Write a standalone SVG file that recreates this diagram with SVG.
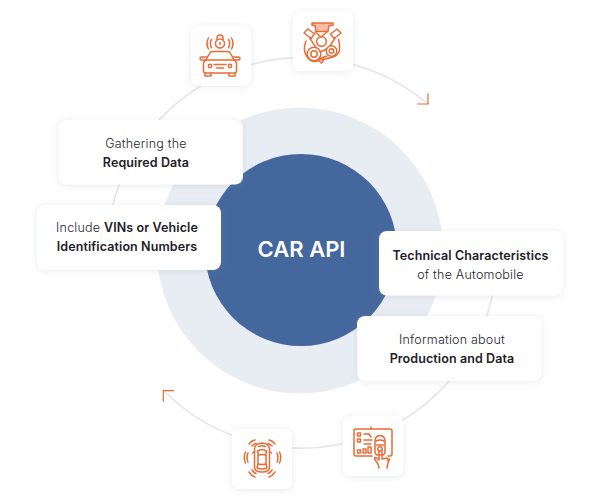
<svg xmlns="http://www.w3.org/2000/svg" width="600" height="500" viewBox="0 0 600 500">
<defs>
<filter id="sh" x="-20%" y="-20%" width="140%" height="150%"><feDropShadow dx="0" dy="1" stdDeviation="3.5" flood-color="#8a94a6" flood-opacity="0.2"/></filter>
</defs>
<style>
.card{fill:#fff;filter:url(#sh)}
.arc{fill:none;stroke:#e4e5e7;stroke-width:1.6}
.arrow{fill:none;stroke:#ea6a33;stroke-width:1.2}
.ic{fill:none;stroke:#e96b35;stroke-width:1.5;stroke-linecap:round;stroke-linejoin:round}
.t{font-family:Inter,"Liberation Sans",sans-serif;font-size:12.5px;font-weight:300;fill:#23262c;text-anchor:middle;letter-spacing:.22px}
.b{font-weight:600;fill:#1d2026;letter-spacing:.1px}
</style>
<rect width="600" height="500" fill="#fff"/>
<g id="hub">
<circle cx="300" cy="250.500" r="143" fill="#e8ecf3"/>
<circle cx="301" cy="250" r="96" fill="#44679d"/>
<text x="301.500" y="257" font-family="Inter,'Liberation Sans',sans-serif" font-size="22" font-weight="600" fill="#fff" text-anchor="middle">CAR API</text>
</g>
<g id="connectors">
<path class="arc" d="M110.600 215A195 195 0 0 1 428 104"/>
<path class="arc" d="M496.200 270A195 195 0 0 1 163.800 390.700"/>
<path class="arrow" d="M417.300 104H428V93.300"/>
<path class="arrow" d="M174 390.700H163.300V401.700"/>
</g>
<g id="node-gathering">
<rect class="card" x="58.500" y="120" width="184.500" height="64.500" rx="8"/>
<text class="t" x="146" y="148">Gathering the</text>
<text class="t b" x="146" y="167">Required Data</text>
</g>
<g id="node-vin">
<rect class="card" x="37" y="205" width="184" height="65" rx="8"/>
<text class="t" x="127" y="232">Include <tspan class="b">VINs or Vehicle</tspan></text>
<text class="t b" x="127" y="251">Identification Numbers</text>
</g>
<g id="node-technical">
<rect class="card" x="379" y="231" width="184" height="64.500" rx="8"/>
<text class="t b" x="470.500" y="260">Technical Characteristics</text>
<text class="t" x="470.500" y="279">of the Automobile</text>
</g>
<g id="node-production">
<rect class="card" x="357" y="316" width="184.500" height="65" rx="8"/>
<text class="t" x="452" y="344">Information about</text>
<text class="t b" x="452" y="363">Production and Data</text>
</g>
<g id="node-car">
<rect class="card" x="191" y="26" width="60" height="60" rx="7"/>
<g class="ic">
<circle cx="220" cy="43.500" r="4.500"/><path d="M217 40v-2a3 3 0 0 1 6 0v2"/><path d="M220 42.500v2"/>
<path d="M211.500 39.500q-2.500 4 0 8M208.500 38q-3 5.500 0 11M228.500 39.500q2.500 4 0 8M231.500 38q3 5.500 0 11"/>
<path d="M206 60l3.500-6.500q1-2 3-2h15q2 0 3 2l3.500 6.500"/>
<path d="M206 60h28q2 1 2.500 3v8q0 2-2 2h-29q-2 0-2-2v-8q.5-2 2.500-3z"/>
<path d="M206 60h-4.500q-1.500 0-1.500-1.500 0-1.500 1.500-1.500h5.500M234 60h4.500q1.500 0 1.500-1.500 0-1.500-1.500-1.500h-5.500"/>
<path d="M205 73v3h6v-3M229 73v3h6v-3"/>
<circle cx="210" cy="66" r="1.700"/><circle cx="230" cy="66" r="1.700"/>
<path d="M214 64.500h12M216.500 68h7"/>
</g>
</g>
<g id="node-engine">
<rect class="card" x="293" y="11" width="60" height="60" rx="7"/>
<g class="ic">
<path d="M312 23h21v2.500h-4l-1 6h-12l-1-6h-3z" fill="#f6bda6"/>
<path d="M304 33l4-4 6.500 5-3.500 4.500zM341 33l-4-4-6.500 5 3.500 4.500z"/>
<path d="M309.700 38l6.300 9.700M335 38l-5 8M315 32l6 5 6-5"/>
<circle cx="321.500" cy="41.500" r="4.800"/>
<circle cx="314" cy="54" r="6.800"/><circle cx="314" cy="54" r="3.200"/>
<circle cx="331.500" cy="51" r="5.300"/><circle cx="331.500" cy="51" r="2.300"/>
<path d="M306 41q-3.500 8 .5 15 3 5.500 7.500 5.500 4 0 6-2 4 0 11-2 7-1.500 8.500-7 .5-6-1-11"/>
<path d="M320 52l6.500-3M320 58.500l7-2.500"/>
<path d="M318.500 60.500l3 2.500 2.500-3.500"/>
</g>
</g>
<g id="node-sensor">
<rect class="card" x="232" y="429" width="60" height="60" rx="7"/>
<g class="ic">
<path d="M254.500 449q0-5.500 7.500-6 7.500.5 7.500 6v18q0 5-7.500 5-7.500 0-7.500-5z"/>
<path d="M257.500 451q4.500-2.500 9 0l-1 4q-3.500-1-7 0zM258 464q4 1 8 0l1 4q-5 2-10 0z"/>
<path d="M258.500 446.500q3.500-1.500 7 0M258 455v9M266 455v9"/>
<path d="M252.500 453l2-1.500M271.500 453l-2-1.500"/>
<path d="M249 444q2.500-3.500 6-4M252 446q1.500-2 4-2.500M275 444q-2.500-3.500-6-4M272 446q-1.500-2-4-2.500"/>
<path d="M248 453q-2 4.500 0 9M245.500 452q-2.500 5.500 0 11M277 453q2 4.500 0 9M279.500 452q2.500 5.500 0 11"/>
<path d="M249 472q2.500 4 6 5M252 470q1.500 2.500 4 3.500M275 472q-2.500 4-6 5M272 470q-1.500 2.500-4 3.500"/>
</g>
</g>
<g id="node-panel">
<rect class="card" x="343" y="416" width="60" height="60" rx="7"/>
<g class="ic">
<path d="M372 456h-16q-2 0-2-2v-23q0-2 2-2h34q2 0 2 2v23q0 2-2 2h-2"/>
<path d="M371 429v-2"/>
<rect x="357.500" y="433" width="3" height="3"/><rect x="357.500" y="439" width="3" height="3"/><rect x="357.500" y="450" width="3" height="3"/>
<rect x="363" y="449" width="3" height="4"/><rect x="368" y="447" width="3" height="6"/>
<path d="M364 434h5l2 3M364 440h8M364 444h7"/>
<path d="M375 441q0-5 5-5.500 5 .5 5 5.500v11q0 2-2 3h-6q-2-1-2-3z"/>
<path d="M376 441q4-2 8 0M376.500 445h7"/>
<circle cx="380" cy="449" r="2.200"/>
<path d="M379 451v9l-2.500-2q-2-1-2 1l3.500 5 1 4M382 459l5-1 .5 2 2-1-1.500 4-1 5M382 459v-8"/>
</g>
</g>
</svg>
